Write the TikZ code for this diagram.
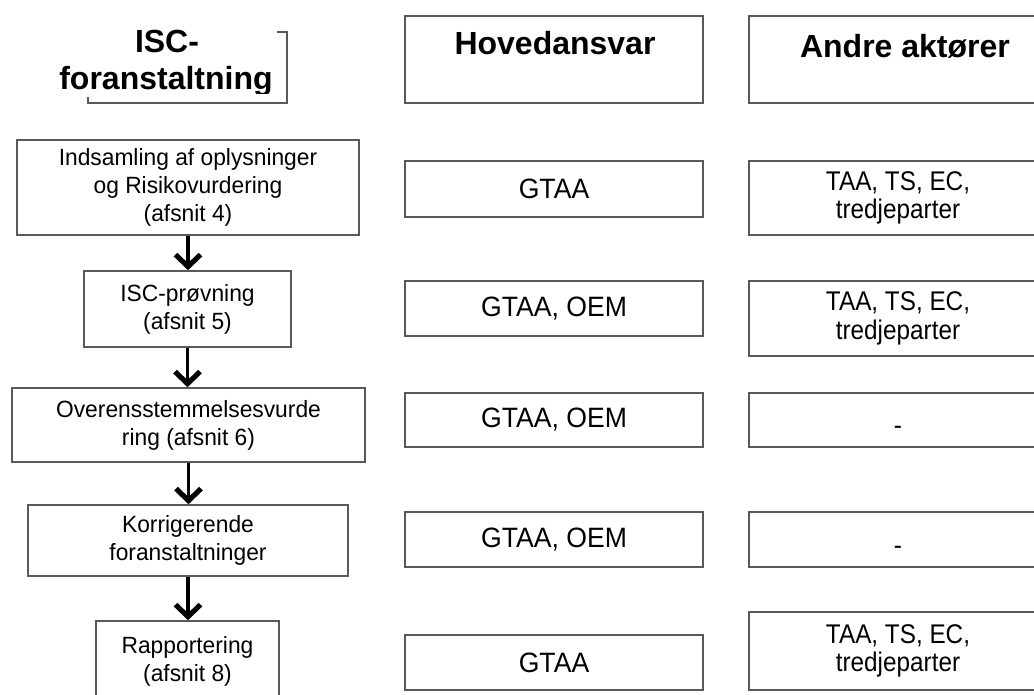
\documentclass[tikz,border=0pt]{standalone}
\usepackage{fontspec}
\setmainfont{Liberation Sans}
\newfontfamily\stepfont[FakeStretch=0.97]{Liberation Sans}
\newfontfamily\rolefont[FakeStretch=0.95]{Liberation Sans}
\newfontfamily\actorfont[FakeStretch=0.9]{Liberation Sans}
\usetikzlibrary{arrows.meta}
\begin{document}
\begin{tikzpicture}[x=1pt,y=-1pt,
  cell/.style={draw=black!65, line width=1.6pt, fill=white, inner sep=0pt, align=center},
  stepcell/.style={cell, font=\stepfont\fontsize{23.5}{28}\selectfont},
  rolecell/.style={cell, font=\rolefont\fontsize{28}{30}\selectfont},
  actorcell/.style={cell, font=\actorfont\fontsize{27}{28.5}\selectfont},
  headtext/.style={anchor=base, inner sep=0pt, font=\bfseries\fontsize{32}{37}\selectfont},
  flow/.style={line width=3.8pt, -{Straight Barb[length=12pt, width=25pt, line width=0pt 1.35]}}]
\useasboundingbox (0,0) rectangle (1034,695);

% column headers
\draw[draw=black!65, line width=1.6pt] (277,32) -- (287,32) -- (287,103) -- (88,103) -- (88,97);
\begin{scope}
  \clip (30,15) rectangle (280,94);
  \node[headtext] (htitleA) at (167,53) {ISC-};
  \node[headtext] (htitleB) at (166,90) {foranstaltning};
\end{scope}

\node[cell, minimum width=298pt, minimum height=87pt] (hmain) at (554,59.5) {};
\node[headtext] (hmaintext) at (555,55) {Hovedansvar};
\node[cell, minimum width=298pt, minimum height=87pt] (hother) at (898,59.5) {};
\node[headtext] (hothertext) at (905,58) {Andre aktører};

% process steps
\node[stepcell, minimum width=342pt, minimum height=95pt] (s1) at (188,187.5)
  {Indsamling af oplysninger\\og Risikovurdering\\(afsnit 4)};
\node[stepcell, minimum width=207pt, minimum height=76pt] (s2) at (187.5,309)
  {ISC-prøvning\\(afsnit 5)};
\node[stepcell, minimum width=353pt, minimum height=74pt] (s3) at (188.5,425)
  {Overensstemmelsesvurde\\ring (afsnit 6)};
\node[stepcell, minimum width=320pt, minimum height=71pt] (s4) at (188,540.5)
  {Korrigerende\\foranstaltninger};
\node[stepcell, minimum width=183pt, minimum height=80pt] (s5) at (187.5,661)
  {Rapportering\\(afsnit 8)};

\draw[flow] (s1.south) -- (s1.south |- s2.north);
\draw[flow] (s2.south) -- (s2.south |- s3.north);
\draw[flow] (s3.south) -- (s3.south |- s4.north);
\draw[flow] (s4.south) -- (s4.south |- s5.north);

% main responsibility
\node[rolecell, minimum width=298pt, minimum height=56pt] (r1) at (554,189) {GTAA};
\node[rolecell, minimum width=298pt, minimum height=55pt] (r2) at (554,308.5) {GTAA, OEM};
\node[rolecell, minimum width=298pt, minimum height=54pt] (r3) at (554,420) {GTAA, OEM};
\node[rolecell, minimum width=298pt, minimum height=55pt] (r4) at (554,539.5) {GTAA, OEM};
\node[rolecell, minimum width=298pt, minimum height=55pt] (r5) at (554,662.5) {GTAA};

% other actors
\node[actorcell, minimum width=298pt, minimum height=74pt] (a1) at (898,198) {TAA, TS, EC,\\tredjeparter};
\node[actorcell, minimum width=298pt, minimum height=75pt] (a2) at (898,318.5) {TAA, TS, EC,\\tredjeparter};
\node[actorcell, minimum width=298pt, minimum height=54pt, text height=30pt, text depth=0.5pt] (a3) at (898,420) {-};
\node[actorcell, minimum width=298pt, minimum height=55pt, text height=30pt, text depth=0.5pt] (a4) at (898,539.5) {-};
\node[actorcell, minimum width=298pt, minimum height=78pt] (a5) at (898,651) {TAA, TS, EC,\\tredjeparter};
\end{tikzpicture}
\end{document}
